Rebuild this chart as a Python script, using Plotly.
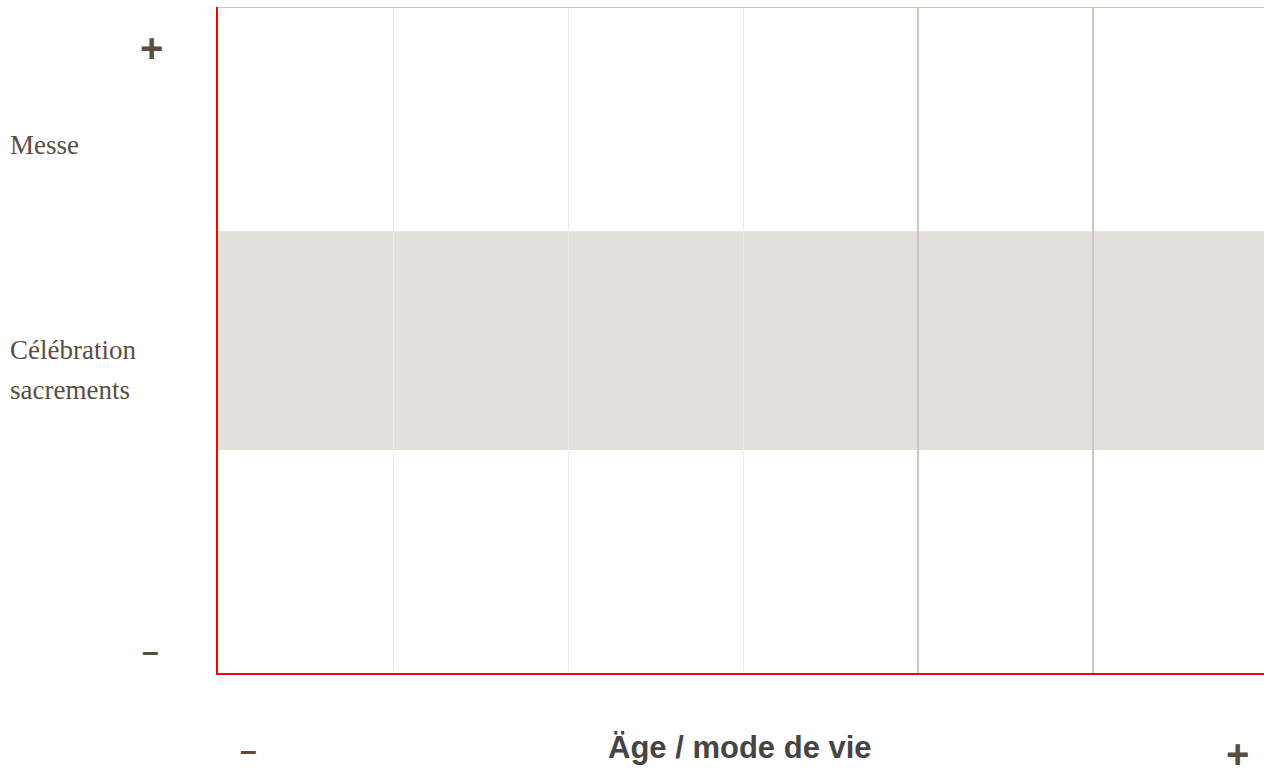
import plotly.graph_objects as go

# ---- data ----
x_ticks = [0, 1, 2, 3, 4, 5, 6]
light_grid = [1, 2, 3]
dark_grid = [4, 5]
band_range = [1.005, 1.99]
y_top = 3
x_range = [0, 5.977]
y_range = [0, 3]

row_labels = ["Messe", "Célébration", "sacrements"]
row_label_y = [0.7928, 0.485, 0.425]
axis_title = "Äge / mode de vie"
plus_sign = "+"
minus_sign = "–"

TEXT_COLOR = "#5a4e42"
SIGN_COLOR = "#5b4d3e"

fig = go.Figure()
# invisible trace to establish axes
fig.add_trace(go.Scatter(x=x_range, y=y_range, mode="markers",
                         marker=dict(opacity=0), hoverinfo="skip", showlegend=False))

shapes = []
# gray band
shapes.append(dict(type="rect", xref="x", yref="y", x0=x_range[0], x1=x_range[1],
                   y0=band_range[0], y1=band_range[1], fillcolor="#e3e0dc",
                   line=dict(width=0), layer="below"))
# darker vertical lines
for xv in dark_grid:
    shapes.append(dict(type="line", xref="x", yref="y", x0=xv, x1=xv,
                       y0=y_range[0], y1=y_range[1],
                       line=dict(color="#cdc6bc", width=2), layer="above"))
# top line
shapes.append(dict(type="line", xref="x", yref="y", x0=x_range[0], x1=x_range[1],
                   y0=y_top, y1=y_top, line=dict(color="#cdc6bc", width=2), layer="above"))

annotations = []
for lab, yy in zip(row_labels, row_label_y):
    annotations.append(dict(text=lab, xref="paper", yref="paper", x=-0.2008, y=yy,
                            xanchor="left", yanchor="middle", showarrow=False,
                            font=dict(family="Liberation Serif", size=27, color=TEXT_COLOR)))

plus_font = dict(family="Liberation Sans", size=40, color=SIGN_COLOR, weight="bold")
minus_font = dict(family="Liberation Sans", size=30, color=SIGN_COLOR, weight="bold")
annotations += [
    dict(text="<b>" + plus_sign + "</b>", xref="paper", yref="paper", x=-0.0631, y=0.9384,
         xanchor="center", yanchor="middle", showarrow=False, font=plus_font),
    dict(text="<b>" + minus_sign + "</b>", xref="paper", yref="paper", x=-0.065, y=0.033,
         xanchor="center", yanchor="middle", showarrow=False, font=minus_font),
    dict(text="<b>" + minus_sign + "</b>", xref="paper", yref="paper", x=0.0296, y=-0.117,
         xanchor="center", yanchor="middle", showarrow=False, font=minus_font),
    dict(text="<b>" + plus_sign + "</b>", xref="paper", yref="paper", x=0.975, y=-0.121,
         xanchor="center", yanchor="middle", showarrow=False, font=plus_font),
    dict(text="<b>" + axis_title + "</b>", xref="paper", yref="paper", x=0.4995, y=-0.1126,
         xanchor="center", yanchor="middle", showarrow=False,
         font=dict(family="Liberation Sans", size=31, color="#454545")),
]

fig.update_layout(
    width=1264, height=769,
    margin=dict(l=218, r=0, t=7, b=96),
    paper_bgcolor="white", plot_bgcolor="rgba(0,0,0,0)",
    shapes=shapes, annotations=annotations,
    showlegend=False,
    xaxis=dict(range=x_range, tickvals=light_grid, showticklabels=False, ticks="",
               showgrid=True, gridcolor="#ececec", gridwidth=1, zeroline=False,
               showline=True, linecolor="red", linewidth=2, fixedrange=True),
    yaxis=dict(range=y_range, tickvals=[], showticklabels=False, ticks="",
               showgrid=False, zeroline=False,
               showline=True, linecolor="red", linewidth=2, fixedrange=True),
)

fig.write_html("out.html", config={"displayModeBar": False},
               post_script="document.body.style.margin='0';document.body.style.overflow='hidden';")
